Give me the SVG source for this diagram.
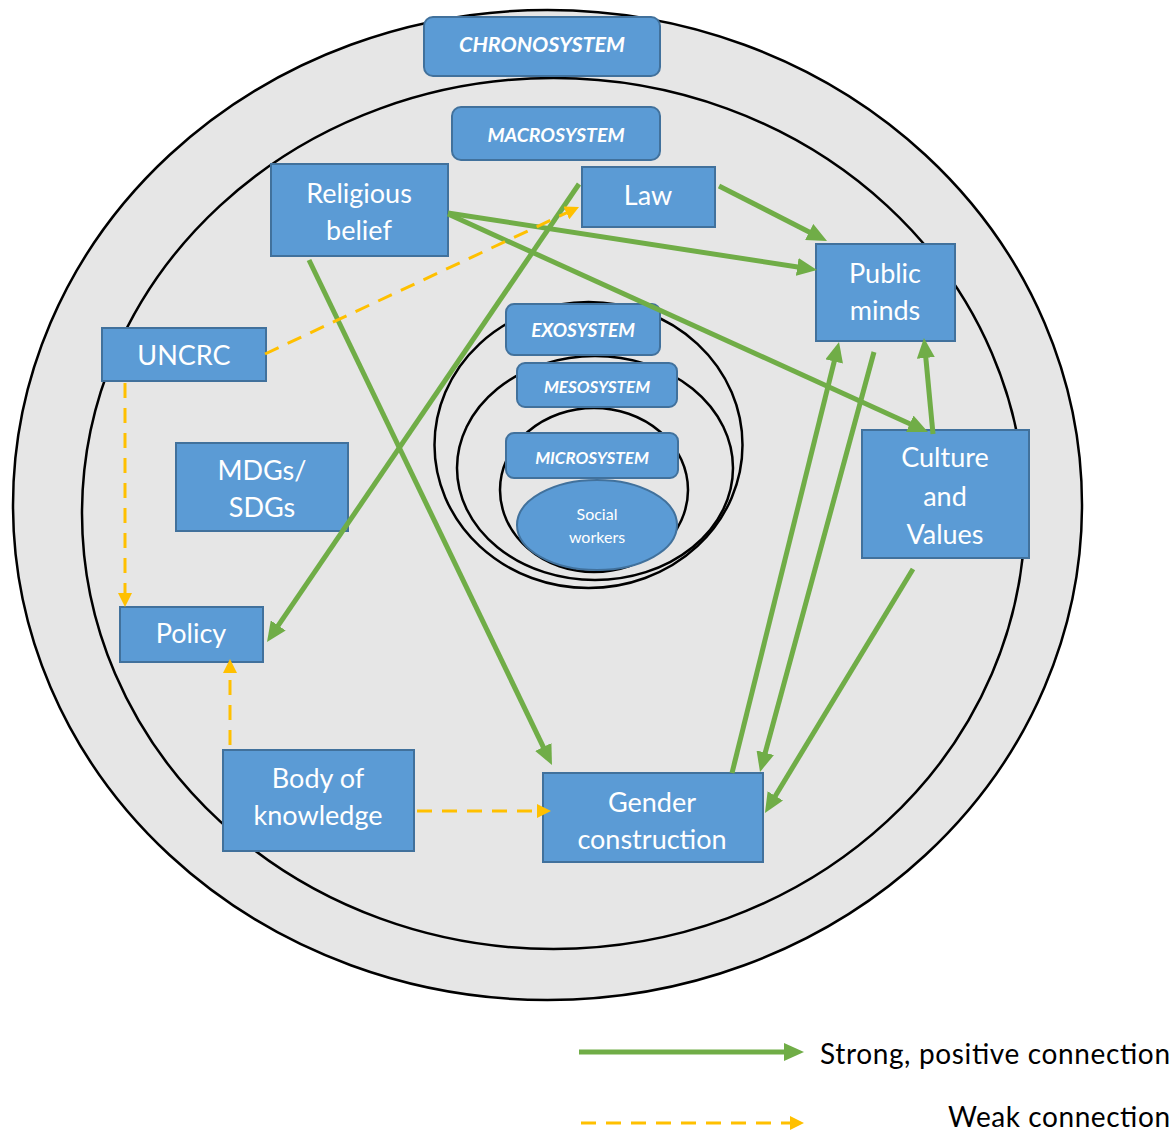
<svg xmlns="http://www.w3.org/2000/svg" width="1175" height="1133" viewBox="0 0 1175 1133">
<defs>
<style>
.ring{fill:#e6e6e6;stroke:#000;stroke-width:2.5}
.ring2{fill:none;stroke:#000;stroke-width:2.5}
.box{fill:#5b9bd5;stroke:#41719c;stroke-width:2}
.sys{fill:#5b9bd5;stroke:#41719c;stroke-width:2}
.t{font-family:Lato,"Liberation Sans",sans-serif;font-size:27px;fill:#fff;text-anchor:middle}
.st{font-family:Lato,"Liberation Sans",sans-serif;font-weight:bold;font-style:italic;fill:#fff;text-anchor:middle}
.sm{font-family:Lato,"Liberation Sans",sans-serif;font-size:16px;fill:#fff;text-anchor:middle}
.lg{font-family:Lato,"Liberation Sans",sans-serif;font-size:28px;fill:#000}
.g{stroke:#70ad47;stroke-width:5;fill:none;marker-end:url(#ga)}
.y{stroke:#ffc000;stroke-width:3;fill:none;stroke-dasharray:15 10;marker-end:url(#ya)}
</style>
<marker id="ga" markerUnits="userSpaceOnUse" markerWidth="20" markerHeight="18" refX="12" refY="9" orient="auto">
<path d="M0,0 L20,9 L0,18 z" fill="#70ad47"/>
</marker>
<marker id="ya" markerUnits="userSpaceOnUse" markerWidth="14" markerHeight="14" refX="9" refY="7" orient="auto">
<path d="M0,0 L14,7 L0,14 z" fill="#ffc000"/>
</marker>
</defs>
<rect width="1175" height="1133" fill="#fff"/>
<g id="rings">
<ellipse class="ring" cx="547.5" cy="505" rx="534.5" ry="495"/>
<ellipse class="ring" cx="553.5" cy="513.5" rx="471.5" ry="435.5"/>
<ellipse class="ring2" cx="588.5" cy="445" rx="154" ry="143"/>
<ellipse class="ring2" cx="595" cy="468" rx="138" ry="112"/>
<ellipse class="ring2" cx="594" cy="490" rx="94" ry="82"/>
</g>
<g id="chronosystem"><rect class="sys" x="424" y="17" width="236" height="59" rx="9"/><text class="st" x="542" y="52" font-size="21.5">CHRONOSYSTEM</text></g>
<g id="macrosystem"><rect class="sys" x="452" y="107" width="208" height="53" rx="9"/><text class="st" x="556" y="142" font-size="19.5">MACROSYSTEM</text></g>
<g id="exosystem"><rect class="sys" x="506" y="304" width="154" height="51" rx="8"/><text class="st" x="583" y="337" font-size="19">EXOSYSTEM</text></g>
<g id="mesosystem"><rect class="sys" x="517" y="363" width="160" height="44" rx="8"/><text class="st" x="597" y="393" font-size="17">MESOSYSTEM</text></g>
<g id="microsystem"><rect class="sys" x="506" y="433" width="172" height="45" rx="8"/><text class="st" x="592" y="464" font-size="17">MICROSYSTEM</text></g>
<g id="social-workers"><ellipse class="box" cx="597" cy="525" rx="80" ry="45"/><text class="sm" x="597" y="520">Social</text><text class="sm" x="597" y="543">workers</text></g>
<g id="religious-belief"><rect class="box" x="271" y="164" width="177" height="92"/><text class="t" x="359" y="203">Religious</text><text class="t" x="359" y="240">belief</text></g>
<g id="law"><rect class="box" x="582" y="167" width="133" height="60"/><text class="t" x="648" y="205">Law</text></g>
<g id="public-minds"><rect class="box" x="816" y="244" width="139" height="97"/><text class="t" x="885" y="283">Public</text><text class="t" x="885" y="320">minds</text></g>
<g id="culture-values"><rect class="box" x="862" y="430" width="167" height="128"/><text class="t" x="945" y="467">Culture</text><text class="t" x="945" y="506">and</text><text class="t" x="945" y="544">Values</text></g>
<g id="uncrc"><rect class="box" x="102" y="328" width="164" height="53"/><text class="t" x="184" y="365">UNCRC</text></g>
<g id="mdgs-sdgs"><rect class="box" x="176" y="443" width="172" height="88"/><text class="t" x="262" y="480">MDGs/</text><text class="t" x="262" y="517">SDGs</text></g>
<g id="policy"><rect class="box" x="120" y="607" width="143" height="55"/><text class="t" x="191" y="643">Policy</text></g>
<g id="body-of-knowledge"><rect class="box" x="223" y="750" width="191" height="101"/><text class="t" x="318" y="788">Body of</text><text class="t" x="318" y="825">knowledge</text></g>
<g id="gender-construction"><rect class="box" x="543" y="773" width="220" height="89"/><text class="t" x="652" y="812">Gender</text><text class="t" x="652" y="849">construction</text></g>
<g id="connectors">
<line class="g" x1="719" y1="186" x2="819.9" y2="237.4"/>
<line class="g" x1="448" y1="213" x2="809.1" y2="268.8"/>
<line class="g" x1="448" y1="214" x2="920.7" y2="428.7"/>
<line class="g" x1="309" y1="260" x2="548.5" y2="757.8"/>
<line class="g" x1="579" y1="184" x2="271.5" y2="635.4"/>
<line class="g" x1="732" y1="773" x2="837.1" y2="349.8"/>
<line class="g" x1="874" y1="352" x2="762.1" y2="764.3"/>
<line class="g" x1="933" y1="434" x2="924.7" y2="346"/>
<line class="g" x1="913" y1="569" x2="769.1" y2="806.2"/>
<line class="y" x1="265" y1="354" x2="574.5" y2="209.1"/>
<line class="y" x1="125" y1="383" x2="125" y2="602"/>
<line class="y" x1="230" y1="745" x2="230" y2="664"/>
<line class="y" x1="417" y1="811" x2="546" y2="811"/>
</g>
<g id="legend">
<line class="g" x1="579" y1="1052" x2="796" y2="1052"/>
<text class="lg" x="820" y="1064" textLength="350">Strong, positive connection</text>
<line class="y" x1="581" y1="1123" x2="799" y2="1123"/>
<text class="lg" x="948" y="1127" textLength="222">Weak connection</text>
</g>
</svg>
